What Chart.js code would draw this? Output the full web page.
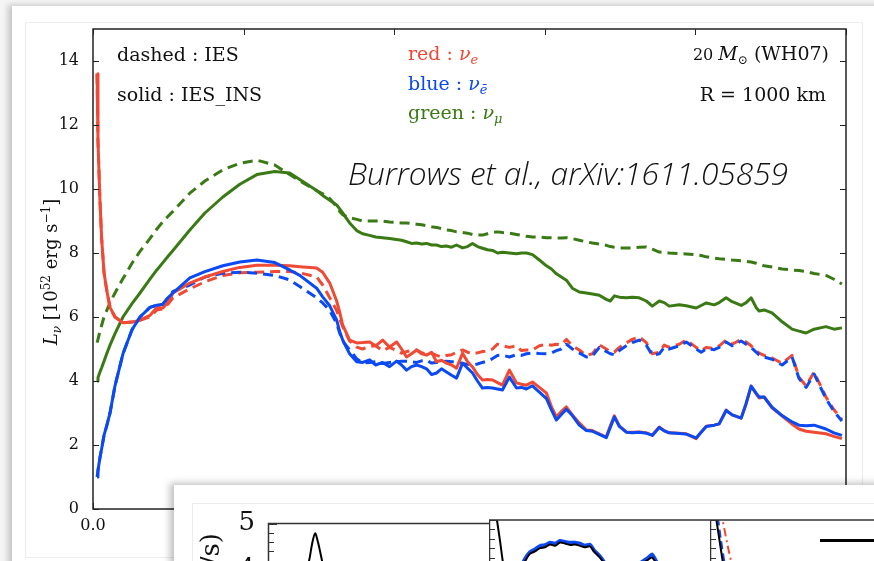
<!DOCTYPE html>
<html>
<head>
<meta charset="utf-8">
<script src="https://cdn.jsdelivr.net/npm/chart.js@4.4.0/dist/chart.umd.min.js"></script>
<style>
  html, body { margin: 0; padding: 0; width: 874px; height: 561px; overflow: hidden; background: #f5f5f5; }
  #sheet { position: absolute; left: 12px; top: 6px; width: 900px; height: 600px; background: #fff;
           box-shadow: -4px -1px 6px rgba(0,0,0,0.2); }
  #figure { position: absolute; left: 25px; top: 22px; width: 836px; height: 534px; border: 1px solid #ececec; }
  #main { position: absolute; left: 0; top: 0; }
  #insetPanel { position: absolute; left: 174px; top: 485px; width: 760px; height: 120px; background: #fff;
                box-shadow: -4px -2px 7px rgba(0,0,0,0.25); }
  #insetFrame { position: absolute; left: 192px; top: 503px; width: 740px; height: 100px; border: 1px solid #ececec; }
  .inset { position: absolute; top: 503px; }
  #legendLine { position: absolute; left: 820px; top: 539px; width: 60px; height: 3px; background: #000; }
</style>
</head>
<body>
<div id="sheet"></div>
<div id="figure"></div>
<canvas id="main" width="874" height="561"></canvas>
<div id="insetPanel"></div>
<div id="insetFrame"></div>
<canvas id="insetA" class="inset" width="297" height="300" style="left:192px"></canvas>
<canvas id="insetB" class="inset" width="221" height="300" style="left:489px"></canvas>
<canvas id="insetC" class="inset" width="200" height="300" style="left:710px"></canvas>
<div id="legendLine"></div>
<script>
// time after bounce [s]
const timeSec = [
  0.0027, 0.0033, 0.0046, 0.0058, 0.0073, 0.0091, 0.0113, 0.0146, 0.0199, 0.0259,
  0.0312, 0.0378, 0.0424, 0.0464, 0.0497, 0.0531, 0.0643, 0.0743, 0.0862, 0.0975,
  0.1088, 0.1207, 0.1306, 0.1373, 0.1485, 0.1525, 0.1572, 0.1618, 0.1638, 0.1658,
  0.1704, 0.1751, 0.1790, 0.1837, 0.1877, 0.1923, 0.1969, 0.2016, 0.2049, 0.2082,
  0.2115, 0.2149, 0.2182, 0.2215, 0.2248, 0.2281, 0.2314, 0.2347, 0.2381, 0.2414,
  0.2454, 0.2487, 0.2520, 0.2553, 0.2586, 0.2619, 0.2653, 0.2686, 0.2719, 0.2765,
  0.2812, 0.2845, 0.2878, 0.2918, 0.2964, 0.3011, 0.3044, 0.3077, 0.3110, 0.3143,
  0.3183, 0.3229, 0.3276, 0.3316, 0.3362, 0.3408, 0.3435, 0.3462, 0.3495, 0.3541,
  0.3581, 0.3627, 0.3674, 0.3714, 0.3760, 0.3793, 0.3826, 0.3893, 0.3939, 0.4005,
  0.4038, 0.4072, 0.4125, 0.4158, 0.4204, 0.4244, 0.4304, 0.4337, 0.4370, 0.4403,
  0.4423, 0.4456, 0.4509, 0.4576, 0.4642, 0.4688, 0.4735, 0.4788, 0.4867, 0.4920,
  0.4973
];

// L_nu [1e52 erg/s], solid = IES_INS, dashed = IES
const nueSolid = [
  13.6, 11.5, 9.66, 8.4, 7.4, 6.84, 6.3, 6.0, 5.82, 5.84,
  5.9, 6.05, 6.3, 6.28, 6.45, 6.75, 7.06, 7.25, 7.42, 7.55,
  7.62, 7.62, 7.6, 7.57, 7.53, 7.4, 7.06, 6.5, 6.15, 5.75,
  5.28, 5.19, 5.2, 5.22, 5.1, 5.28, 5.06, 5.22, 5.0, 4.75,
  4.85, 4.97, 4.85, 4.81, 4.9, 4.6, 4.65, 4.56, 4.5, 4.4,
  4.87, 4.6, 4.44, 4.2, 4.03, 4.05, 4.03, 3.95, 3.87, 4.34,
  3.94, 3.9, 3.87, 3.97, 3.8, 3.62, 3.2, 2.88, 3.05, 3.19,
  2.94, 2.69, 2.47, 2.45, 2.35, 2.25, 2.6, 2.91, 2.6, 2.41,
  2.4, 2.41, 2.38, 2.31, 2.56, 2.45, 2.38, 2.37, 2.35, 2.2,
  2.4, 2.59, 2.62, 2.66, 3.09, 2.94, 2.84, 3.3, 3.84, 3.6,
  3.47, 3.5, 3.16, 2.9, 2.65, 2.5, 2.43, 2.4, 2.35, 2.27,
  2.2
];
const nuebarSolid = [
  1.0, 1.2, 1.6, 1.9, 2.3, 2.6, 3.0, 3.85, 4.85, 5.6,
  6.0, 6.3, 6.37, 6.4, 6.6, 6.75, 7.22, 7.42, 7.6, 7.72,
  7.78, 7.7, 7.47, 7.3, 6.9, 6.63, 6.35, 5.9, 5.55, 5.28,
  4.85, 4.6, 4.58, 4.66, 4.5, 4.58, 4.45, 4.62, 4.5, 4.34,
  4.45, 4.5, 4.45, 4.38, 4.2, 4.25, 4.38, 4.28, 4.18, 4.09,
  4.56, 4.4, 4.25, 4.0, 3.78, 3.8, 3.78, 3.75, 3.72, 4.12,
  3.78, 3.8, 3.75, 3.85, 3.65, 3.45, 3.1, 2.78, 2.95, 3.12,
  2.92, 2.62, 2.45, 2.43, 2.33, 2.23, 2.55, 2.88, 2.58, 2.4,
  2.38, 2.4, 2.37, 2.3, 2.55, 2.44, 2.38, 2.36, 2.34, 2.22,
  2.4, 2.58, 2.62, 2.66, 3.08, 2.94, 2.84, 3.3, 3.84, 3.62,
  3.5, 3.5, 3.18, 2.92, 2.72, 2.62, 2.6, 2.62, 2.5, 2.38,
  2.3
];
const numuSolid = [
  4.0, 4.1, 4.28, 4.42, 4.62, 4.85, 5.12, 5.48, 6.0, 6.42,
  6.75, 7.18, 7.47, 7.7, 7.89, 8.08, 8.72, 9.25, 9.75, 10.15,
  10.45, 10.55, 10.5, 10.3, 9.95, 9.8, 9.65, 9.5, 9.38, 9.25,
  8.94, 8.7, 8.6, 8.55, 8.5, 8.48, 8.45, 8.42, 8.4, 8.35,
  8.3, 8.31, 8.28, 8.3, 8.25, 8.25, 8.2, 8.22, 8.18, 8.25,
  8.16, 8.2, 8.3, 8.2, 8.15, 8.1, 8.08, 8.0, 8.02, 8.0,
  7.98, 8.0, 8.0, 7.95, 7.78, 7.6, 7.5, 7.35, 7.25, 7.15,
  6.9, 6.78, 6.75, 6.72, 6.68, 6.55, 6.5, 6.66, 6.62, 6.6,
  6.62, 6.6, 6.5, 6.34, 6.5, 6.45, 6.34, 6.38, 6.35, 6.28,
  6.36, 6.44, 6.38, 6.45, 6.6, 6.48, 6.36, 6.45, 6.6, 6.3,
  6.19, 6.22, 6.13, 5.85, 5.62, 5.56, 5.5, 5.62, 5.7, 5.62,
  5.66
];
const nueDashed = [
  13.6, 11.5, 9.66, 8.4, 7.4, 6.84, 6.3, 6.0, 5.82, 5.84,
  5.9, 6.0, 6.22, 6.25, 6.4, 6.6, 6.88, 7.1, 7.3, 7.38,
  7.4, 7.42, 7.42, 7.38, 7.25, 7.0, 6.6, 6.2, 5.95, 5.7,
  5.25, 5.06, 5.0, 5.08, 5.1, 4.95, 5.05, 4.95, 4.87, 4.92,
  4.95, 4.97, 4.88, 4.85, 4.87, 4.8, 4.75, 4.8, 4.82, 4.9,
  4.97, 4.9, 4.85, 4.88, 4.92, 4.93, 5.0, 5.15, 5.1, 5.05,
  5.1, 4.95, 4.97, 4.97, 5.1, 5.15, 5.12, 5.15, 5.13, 5.3,
  5.1, 4.97, 4.8, 4.85, 5.13, 5.0, 4.92, 4.9, 5.05, 5.19,
  5.3, 5.38, 5.2, 4.85, 4.9, 5.12, 5.05, 5.15, 5.28, 5.05,
  4.95, 5.05, 5.02, 5.1, 5.28, 5.15, 5.3, 5.22, 5.1, 4.95,
  4.87, 4.8, 4.72, 4.55, 4.8, 4.12, 3.85, 4.28, 3.5, 3.1,
  2.8
];
const nuebarDashed = [
  1.0, 1.2, 1.6, 1.9, 2.3, 2.6, 3.0, 3.85, 4.85, 5.6,
  6.0, 6.3, 6.37, 6.4, 6.6, 6.8, 7.0, 7.25, 7.37, 7.4,
  7.37, 7.3, 7.16, 6.95, 6.6, 6.44, 6.2, 5.8, 5.5, 5.25,
  4.97, 4.7, 4.56, 4.58, 4.6, 4.55, 4.58, 4.6, 4.62, 4.62,
  4.6, 4.58, 4.63, 4.65, 4.56, 4.58, 4.6, 4.62, 4.6, 4.6,
  4.55, 4.52, 4.5, 4.53, 4.58, 4.62, 4.7, 4.8, 4.81, 4.75,
  4.82, 4.8, 4.85, 4.88, 4.86, 4.85, 4.88, 4.95, 5.0, 5.15,
  5.0, 4.88, 4.75, 4.78, 5.05, 4.92, 4.85, 4.82, 4.95, 5.1,
  5.2, 5.28, 5.12, 4.8, 4.85, 5.05, 5.0, 5.1, 5.22, 5.0,
  4.9, 5.0, 4.98, 5.05, 5.22, 5.1, 5.25, 5.15, 5.05, 4.9,
  4.82, 4.75, 4.68, 4.5, 4.75, 4.08, 3.8, 4.22, 3.45, 3.05,
  2.75
];
const numuDashed = [
  5.2, 5.3, 5.55, 5.75, 6.0, 6.2, 6.45, 6.75, 7.2, 7.68,
  8.05, 8.45, 8.75, 8.98, 9.14, 9.3, 9.87, 10.25, 10.6, 10.8,
  10.9, 10.75, 10.45, 10.25, 9.95, 9.85, 9.7, 9.45, 9.3, 9.2,
  9.1, 9.05, 9.0, 9.0, 9.0, 9.0, 8.97, 8.95, 8.94, 8.94,
  8.92, 8.9, 8.88, 8.85, 8.82, 8.8, 8.76, 8.72, 8.7, 8.66,
  8.64, 8.62, 8.58, 8.56, 8.56, 8.6, 8.64, 8.66, 8.64, 8.62,
  8.58, 8.55, 8.52, 8.5, 8.5, 8.48, 8.48, 8.47, 8.47, 8.48,
  8.45, 8.4, 8.35, 8.31, 8.28, 8.24, 8.2, 8.18, 8.16, 8.16,
  8.16, 8.18, 8.19, 8.12, 8.03, 8.02, 8.0, 7.98, 7.97, 7.95,
  7.92, 7.88, 7.84, 7.82, 7.8, 7.78, 7.76, 7.74, 7.72, 7.68,
  7.65, 7.6, 7.56, 7.5, 7.47, 7.45, 7.42, 7.36, 7.3, 7.18,
  7.03
];

// lower panel row (only its top strip shows)
const panelA_t = [14.5, 16.7, 18.6, 19.9, 21.3, 22.6, 24.0, 25.8, 28.0];
const panelA_black = [3.4, 3.9, 4.2, 4.55, 4.79, 4.6, 4.3, 3.9, 3.5];
const panelB_t = [2.3, 3.6, 5.0, 6.3, 8.1, 10, 14, 16.3, 18.5, 20.8, 23.1, 25.3, 27.6, 29.9, 32.1, 34.4,
                  36.7, 38.9, 41.2, 43.4, 45.7, 47.5, 50.2, 52.5, 54.8, 60, 63.8, 68.8, 71.9, 73.8, 76, 79.6];
const panelB_black = [5.4, 5.0, 4.55, 4.1, 3.6, 3.4, 3.9, 4.12, 4.28, 4.33, 4.4, 4.42, 4.48, 4.45, 4.52, 4.5,
                      4.47, 4.48, 4.45, 4.42, 4.44, 4.33, 4.2, 4.06, 3.9, 3.7, 3.85, 4.05, 4.15, 4.2, 4.05, 3.8];
const panelB_blueT = [14, 16.3, 18.5, 20.8, 23.1, 25.3, 27.6, 29.9, 32.1, 34.4, 36.7, 38.9, 41.2, 43.4,
                      45.7, 47.5, 50.2, 52.5, 54.8, 60, 63.8, 68.8, 71.9, 73.8, 76, 79.6];
const panelB_blue = [3.95, 4.18, 4.32, 4.38, 4.45, 4.47, 4.52, 4.5, 4.56, 4.54, 4.52, 4.52, 4.5, 4.46,
                     4.48, 4.36, 4.23, 4.08, 3.92, 3.75, 3.9, 4.1, 4.2, 4.27, 4.1, 3.82];
const panelC_blackT = [1.8, 3.2, 5.0, 6.8, 9.0];
const panelC_black = [5.4, 5.0, 4.5, 4.0, 3.5];
const panelC_blueT = [2.7, 4.1, 5.4, 7.2];
const panelC_blue = [5.3, 5.0, 4.6, 4.1];
const panelC_redT = [5.4, 6.3, 8.6, 10.9, 13.6];
const panelC_red = [5.2, 5.0, 4.5, 4.05, 3.5];

const RED = '#f04a35';
const BLUE = '#0b4af2';
const GREEN = '#3a7a14';
const SERIF = '"DejaVu Serif", serif';

function pts(xs, ys) { return xs.map((x, i) => ({ x: x, y: ys[i] })); }

// draws a row of text pieces (for sub/superscripts)
function drawRuns(ctx, x, y, runs, align) {
    let total = 0;
    runs.forEach(r => { ctx.font = r.font; r.w = ctx.measureText(r.text).width; total += r.w; });
    let cx = align === 'right' ? x - total : (align === 'center' ? x - total / 2 : x);
    runs.forEach(r => {
        ctx.font = r.font;
        ctx.fillStyle = r.color || '#111';
        ctx.fillText(r.text, cx, y + (r.dy || 0));
        cx += r.w;
    });
}

const frameTicks = {
    id: 'frameTicks',
    afterDatasetsDraw(chart) {
        const { ctx, chartArea: a, scales: { x, y } } = chart;
        ctx.save();
        ctx.strokeStyle = '#222';
        ctx.lineWidth = 1.5;
        ctx.strokeRect(a.left, a.top, a.right - a.left, a.bottom - a.top);
        ctx.lineWidth = 1;
        ctx.beginPath();
        y.ticks.forEach(t => {
            const p = Math.round(y.getPixelForValue(t.value)) + 0.5;
            ctx.moveTo(a.left, p); ctx.lineTo(a.left + 6, p);
            ctx.moveTo(a.right, p); ctx.lineTo(a.right - 6, p);
        });
        x.ticks.forEach(t => {
            const p = Math.round(x.getPixelForValue(t.value)) + 0.5;
            ctx.moveTo(p, a.top); ctx.lineTo(p, a.top + 6);
            ctx.moveTo(p, a.bottom); ctx.lineTo(p, a.bottom - 6);
        });
        ctx.stroke();
        ctx.restore();
    }
};

const notes = {
    id: 'notes',
    afterDraw(chart) {
        const ctx = chart.ctx;
        const reg = '19px ' + SERIF, ita = 'italic 19px ' + SERIF, sub = 'italic 13px ' + SERIF;
        ctx.save();
        ctx.textBaseline = 'alphabetic';
        ctx.textAlign = 'left';
        drawRuns(ctx, 117, 61, [{ text: 'dashed : IES', font: reg }]);
        drawRuns(ctx, 117, 101, [{ text: 'solid : IES_INS', font: reg }]);
        drawRuns(ctx, 408, 60, [{ text: 'red : ', font: reg, color: RED }, { text: 'ν', font: ita, color: RED },
                                { text: 'e', font: sub, dy: 4, color: RED }]);
        drawRuns(ctx, 408, 90, [{ text: 'blue : ', font: reg, color: BLUE }, { text: 'ν', font: ita, color: BLUE },
                                { text: 'ē', font: sub, dy: 4, color: BLUE }]);
        drawRuns(ctx, 408, 119, [{ text: 'green : ', font: reg, color: GREEN }, { text: 'ν', font: ita, color: GREEN },
                                 { text: 'μ', font: sub, dy: 4, color: GREEN }]);
        drawRuns(ctx, 829, 60, [{ text: '20 ', font: '16px ' + SERIF }, { text: 'M', font: ita },
                                { text: '⊙', font: '12px ' + SERIF, dy: 4 }, { text: ' (WH07)', font: reg }], 'right');
        drawRuns(ctx, 826, 101, [{ text: 'R = 1000 km', font: reg }], 'right');

        ctx.font = 'italic 300 32px "Open Sans", sans-serif';
        ctx.fillStyle = '#111';
        ctx.fillText('Burrows et al., arXiv:1611.05859', 348, 185, 440);

        // y axis title
        ctx.translate(57, 272);
        ctx.rotate(-Math.PI / 2);
        drawRuns(ctx, 0, 0, [{ text: 'L', font: 'italic 18px ' + SERIF }, { text: 'ν', font: 'italic 12px ' + SERIF, dy: 4 },
                             { text: ' [10', font: '18px ' + SERIF }, { text: '52', font: '12px ' + SERIF, dy: -7 },
                             { text: ' erg s', font: '18px ' + SERIF }, { text: '−1', font: '12px ' + SERIF, dy: -7 },
                             { text: ']', font: '18px ' + SERIF }], 'center');
        ctx.restore();
    }
};

function lineSet(data, color, dashed) {
    return { data: data, borderColor: color, borderWidth: 3, borderDash: dashed ? [10, 6] : [],
             pointRadius: 0, tension: 0, borderJoinStyle: 'round', fill: false };
}

new Chart(document.getElementById('main'), {
    type: 'line',
    data: {
        datasets: [
            lineSet(pts(timeSec, nuebarSolid), BLUE, false),
            lineSet(pts(timeSec, nueSolid), RED, false),
            lineSet(pts(timeSec, nuebarDashed), BLUE, true),
            lineSet(pts(timeSec, nueDashed), RED, true),
            lineSet(pts(timeSec, numuSolid), GREEN, false),
            lineSet(pts(timeSec, numuDashed), GREEN, true)
        ]
    },
    options: {
        responsive: false,
        animation: false,
        devicePixelRatio: 1,
        layout: { padding: { left: 0, top: 29, right: 28, bottom: 0 } },
        plugins: { legend: { display: false }, tooltip: { enabled: false } },
        scales: {
            x: {
                type: 'linear', min: 0, max: 0.5,
                grid: { display: false }, border: { display: false },
                ticks: { stepSize: 0.1, color: '#111', padding: -1, maxRotation: 0,
                         font: { family: 'DejaVu Serif', size: 16 }, callback: v => v.toFixed(1) },
                afterFit: s => { s.height = 52; }
            },
            y: {
                min: 0, max: 15,
                grid: { display: false }, border: { display: false },
                ticks: { stepSize: 2, color: '#111', padding: 6, font: { family: 'DejaVu Serif', size: 16 } },
                afterBuildTicks: s => { s.ticks = s.ticks.filter(t => t.value <= 14); },
                afterFit: s => { s.width = 93; }
            }
        }
    },
    plugins: [frameTicks, notes]
});

// lower row of panels
const panelFrame = {
    id: 'panelFrame',
    afterDatasetsDraw(chart) {
        const { ctx, chartArea: a, scales: { y } } = chart;
        ctx.save();
        ctx.strokeStyle = '#333';
        ctx.lineWidth = 1.5;
        ctx.beginPath();
        ctx.moveTo(a.left + 0.5, a.bottom); ctx.lineTo(a.left + 0.5, a.top); ctx.lineTo(a.right + 2, a.top);
        ctx.stroke();
        ctx.lineWidth = 1;
        ctx.beginPath();
        for (let v = 5; v >= 3; v -= 0.2) {
            const p = Math.round(y.getPixelForValue(v)) + 0.5;
            const len = Math.abs(v - Math.round(v)) < 0.01 ? 9 : 6;
            ctx.moveTo(a.left, p); ctx.lineTo(a.left + len, p);
        }
        ctx.stroke();
        if (chart.canvas.id === 'insetA') {
            ctx.translate(27, 30);
            ctx.rotate(-Math.PI / 2);
            ctx.font = '26px ' + SERIF;
            ctx.fillStyle = '#111';
            ctx.textAlign = 'right';
            ctx.fillText('v (km/s)', 0, 0);
        }
        ctx.restore();
    }
};

function panel(id, sets, showY) {
    return new Chart(document.getElementById(id), {
        type: 'line',
        data: { datasets: sets },
        options: {
            responsive: false, animation: false, devicePixelRatio: 1,
            layout: { padding: { left: 0, top: 17, right: 0, bottom: 48 } },
            plugins: { legend: { display: false }, tooltip: { enabled: false } },
            scales: {
                x: { type: 'linear', min: 0, max: 100, display: false },
                y: {
                    min: 0, max: 5, display: showY,
                    grid: { display: false }, border: { display: false },
                    ticks: { stepSize: 1, color: '#111', padding: 5, font: { family: 'DejaVu Serif', size: 26 } },
                    afterFit: s => { s.width = showY ? 76 : 0; }
                }
            }
        },
        plugins: [panelFrame]
    });
}

function thin(data, color, dash) {
    return { data: data, borderColor: color, borderWidth: 2, borderDash: dash || [], pointRadius: 0, tension: 0.3 };
}

panel('insetA', [thin(pts(panelA_t, panelA_black), '#000')], true);
panel('insetB', [thin(pts(panelB_t, panelB_black), '#000'),
                 { data: pts(panelB_blueT, panelB_blue), borderColor: BLUE, borderWidth: 3.5, pointRadius: 0, tension: 0.2 }], false);
panel('insetC', [thin(pts(panelC_blackT, panelC_black), '#000'),
                 thin(pts(panelC_blueT, panelC_blue), BLUE, [8, 4]),
                 thin(pts(panelC_redT, panelC_red), RED, [8, 4, 2, 4])], false);
</script>
</body>
</html>
